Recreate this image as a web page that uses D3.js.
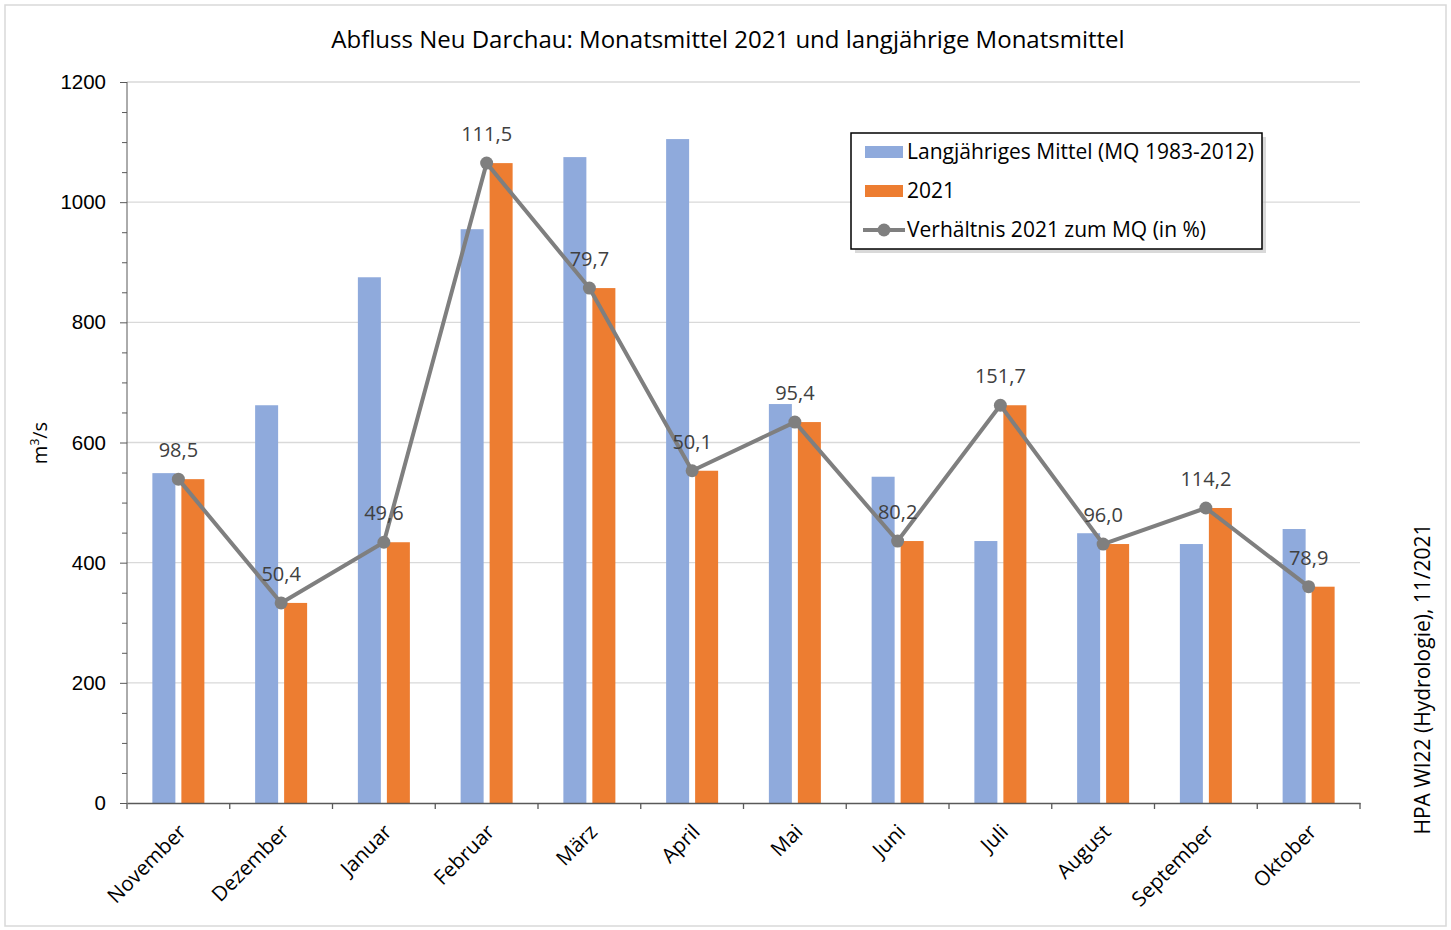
<!DOCTYPE html>
<html>
<head>
<meta charset="utf-8">
<script src="https://cdn.jsdelivr.net/npm/d3@7"></script>
<style>
  body { margin: 0; background: #fff; }
  svg { display: block; font-family: "Open Sans", "Noto Sans", sans-serif; }
</style>
</head>
<body>
<svg id="chart" width="1451" height="930"></svg>
<script>
// Monate (Abflussjahr Nov - Okt)
const monate = ["November", "Dezember", "Januar", "Februar", "März", "April",
    "Mai", "Juni", "Juli", "August", "September", "Oktober"];
// langjähriges Mittel MQ 1983-2012 in m³/s
const mq = [549, 662, 875, 955, 1075, 1105, 664, 543, 436, 449, 431, 456];
// Monatsmittel 2021 in m³/s
const werte2021 = [539, 333, 434, 1065, 857, 553, 634, 436, 662, 431, 491, 360];
// Verhältnis 2021 zum MQ in %
const verhaeltnis = ["98,5", "50,4", "49,6", "111,5", "79,7", "50,1",
    "95,4", "80,2", "151,7", "96,0", "114,2", "78,9"];
const yTicks = [0, 200, 400, 600, 800, 1000, 1200];

const svg = d3.select("#chart");
const margin = {left: 127, right: 1360, top: 82, bottom: 803};

// Rahmen um das Diagramm
svg.append("rect")
    .attr("x", 5).attr("y", 5).attr("width", 1441).attr("height", 921)
    .attr("fill", "#fff").attr("stroke", "#d9d9d9").attr("stroke-width", 1.5);

const x = d3.scaleBand().domain(monate).range([margin.left, margin.right]);
const y = d3.scaleLinear().domain([0, 1200]).range([margin.bottom, margin.top]);

// Gitternetzlinien
svg.append("g").selectAll("line").data(yTicks.slice(1)).join("line")
    .attr("x1", margin.left).attr("x2", margin.right)
    .attr("y1", d => y(d)).attr("y2", d => y(d))
    .attr("stroke", "#d9d9d9").attr("stroke-width", 1.3);

// Balken
const barW = 23, gap = 3;
svg.append("g").selectAll("rect").data(monate).join("rect")
    .attr("x", d => x(d) + x.bandwidth() / 2 - gap - barW)
    .attr("y", (d, i) => y(mq[i]))
    .attr("width", barW)
    .attr("height", (d, i) => y(0) - y(mq[i]))
    .attr("fill", "#8faadc");

svg.append("g").selectAll("rect").data(monate).join("rect")
    .attr("x", d => x(d) + x.bandwidth() / 2 + gap)
    .attr("y", (d, i) => y(werte2021[i]))
    .attr("width", barW)
    .attr("height", (d, i) => y(0) - y(werte2021[i]))
    .attr("fill", "#ed7d31");

// y-Achse
const yAxis = svg.append("g")
    .attr("transform", "translate(" + margin.left + ",0)")
    .call(d3.axisLeft(y).tickValues(yTicks).tickSize(7).tickPadding(14).tickFormat(d3.format("d")));
svg.append("g")
    .attr("transform", "translate(" + margin.left + ",0)")
    .call(d3.axisLeft(y).tickValues(d3.range(50, 1200, 50).filter(v => v % 200 !== 0))
        .tickSize(5).tickFormat(""))
    .select(".domain").remove();
svg.selectAll("g .tick line").attr("stroke", "#595959");
yAxis.select(".domain").attr("stroke", "#595959").attr("d", "M0," + margin.top + "V" + margin.bottom);
yAxis.selectAll("text").attr("font-size", 20.5).attr("fill", "#000");

// x-Achse
const xAxis = svg.append("g")
    .attr("transform", "translate(0," + margin.bottom + ")")
    .call(d3.axisBottom(x).tickSize(0).tickFormat(""));
xAxis.select(".domain").attr("stroke", "#595959").attr("stroke-width", 1.3);
xAxis.selectAll(".tick").remove();
svg.append("g").selectAll("line").data(d3.range(monate.length + 1)).join("line")
    .attr("x1", i => margin.left + i * x.step()).attr("x2", i => margin.left + i * x.step())
    .attr("y1", margin.bottom).attr("y2", margin.bottom + 6)
    .attr("stroke", "#595959").attr("stroke-width", 1.3);

svg.append("g").selectAll("text").data(monate).join("text")
    .attr("transform", d => "translate(" + (x(d) + x.bandwidth() / 2 + 4) + "," + (margin.bottom + 25) + ") rotate(-45)")
    .attr("text-anchor", "end")
    .attr("dy", "0.35em")
    .attr("font-size", 20.5)
    .attr("fill", "#000")
    .text(d => d);

// Linie Verhältnis
const cx = d => x(d) + x.bandwidth() / 2;
const line = d3.line()
    .x(d => cx(d))
    .y((d, i) => y(werte2021[i]));
svg.append("path").datum(monate)
    .attr("d", line)
    .attr("fill", "none").attr("stroke", "#7f7f7f").attr("stroke-width", 4)
    .attr("stroke-linejoin", "round");
svg.append("g").selectAll("circle").data(monate).join("circle")
    .attr("cx", d => cx(d)).attr("cy", (d, i) => y(werte2021[i]))
    .attr("r", 6.5).attr("fill", "#7f7f7f");
svg.append("g").selectAll("text").data(monate).join("text")
    .attr("x", d => cx(d)).attr("y", (d, i) => y(werte2021[i]) - 22)
    .attr("text-anchor", "middle")
    .attr("font-size", 20).attr("fill", "#404040")
    .text((d, i) => verhaeltnis[i]);

// Titel
svg.append("text")
    .attr("x", 728).attr("y", 48)
    .attr("text-anchor", "middle").attr("font-size", 24).attr("fill", "#000")
    .text("Abfluss Neu Darchau: Monatsmittel 2021 und langjährige Monatsmittel");

// Achsentitel
const yl = svg.append("text")
    .attr("transform", "translate(47,443) rotate(-90)")
    .attr("text-anchor", "middle").attr("font-size", 20).attr("fill", "#000");
yl.append("tspan").text("m");
yl.append("tspan").attr("font-size", 12).attr("dy", -8).text("3");
yl.append("tspan").attr("dy", 8).text("/s");

// Quelle
svg.append("text")
    .attr("transform", "translate(1430,679) rotate(-90)")
    .attr("text-anchor", "middle").attr("font-size", 21).attr("fill", "#000")
    .text("HPA WI22 (Hydrologie), 11/2021");

// Legende
const lg = svg.append("g").attr("transform", "translate(851,133)");
lg.append("rect").attr("x", 4).attr("y", 4).attr("width", 411).attr("height", 116)
    .attr("fill", "#bfbfbf").attr("opacity", 0.6);
lg.append("rect").attr("width", 411).attr("height", 116)
    .attr("fill", "#fff").attr("stroke", "#000").attr("stroke-width", 1.5);
const legende = [
    {name: "Langjähriges Mittel (MQ 1983-2012)", typ: "bar", farbe: "#8faadc"},
    {name: "2021", typ: "bar", farbe: "#ed7d31"},
    {name: "Verhältnis 2021 zum MQ (in %)", typ: "line", farbe: "#7f7f7f"}
];
legende.forEach(function(e, i){
    const yy = 19 + i * 39;
    if (e.typ === "bar") {
        lg.append("rect").attr("x", 14).attr("y", yy - 6).attr("width", 38).attr("height", 12)
            .attr("fill", e.farbe);
    } else {
        lg.append("line").attr("x1", 12).attr("x2", 54).attr("y1", yy).attr("y2", yy)
            .attr("stroke", e.farbe).attr("stroke-width", 4);
        lg.append("circle").attr("cx", 33).attr("cy", yy).attr("r", 6.5).attr("fill", e.farbe);
    }
    lg.append("text").attr("x", 56).attr("y", yy).attr("dy", "0.35em")
        .attr("font-size", 21).attr("fill", "#000").text(e.name);
});
</script>
</body>
</html>
